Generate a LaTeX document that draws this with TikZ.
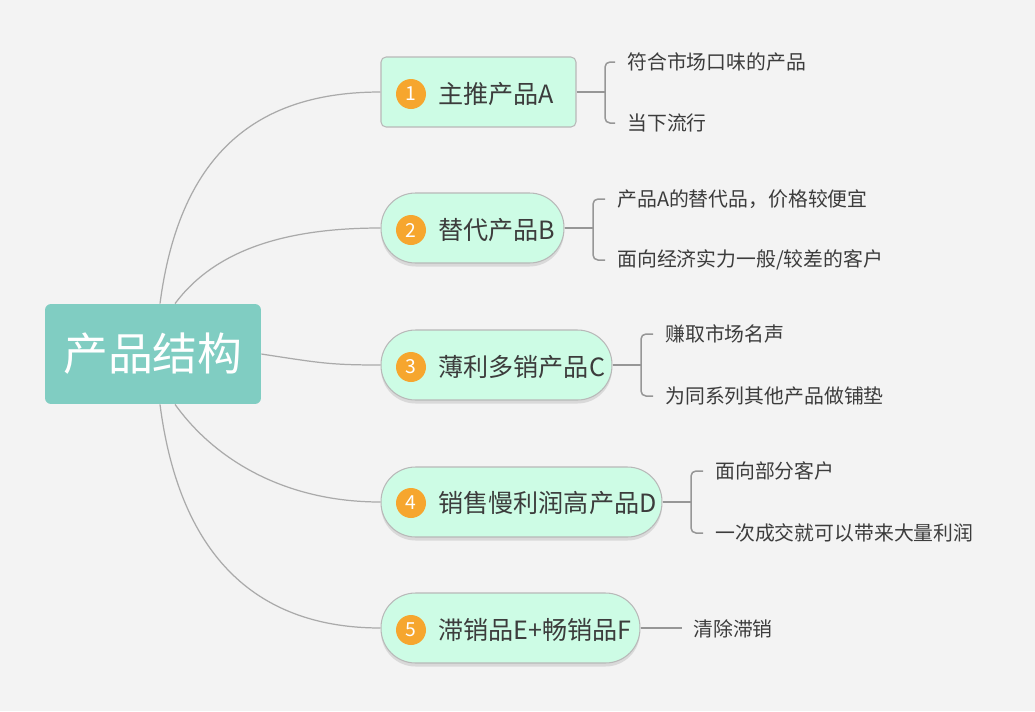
\documentclass[tikz,border=0pt]{standalone}
\usepackage{fontspec}
\setmainfont{Noto Sans CJK SC}
\usetikzlibrary{shadows}
\definecolor{bg}{RGB}{243,243,243}
\definecolor{topiccol}{RGB}{128,205,194}
\definecolor{pillfill}{RGB}{205,252,229}
\definecolor{pillline}{RGB}{184,184,184}
\definecolor{numcol}{RGB}{246,166,46}
\definecolor{linkcol}{RGB}{170,170,170}
\definecolor{brkcol}{RGB}{150,150,150}
\definecolor{textcol}{RGB}{60,60,60}
\tikzset{
  topic/.style={fill=topiccol, rounded corners=0.12cm, minimum width=4.32cm,
    minimum height=2cm, text=white, font=\fontsize{25.5}{30}\selectfont},
  branch/.style={draw=pillline, fill=pillfill, line width=0.6pt,
    rounded corners=0.1cm, minimum height=1.4cm},
  pill/.style={branch, rounded corners=0.69cm,
    drop shadow={shadow xshift=0pt, shadow yshift=-0.07cm, opacity=0.22}},
  num/.style={circle, fill=numcol, minimum size=0.6cm, inner sep=0pt,
    text=white, font=\fontsize{11}{13}\selectfont},
  btext/.style={anchor=west, inner sep=0pt, text=textcol,
    font=\fontsize{14.3}{17}\selectfont},
  stext/.style={anchor=west, inner sep=0pt, text=textcol,
    font=\fontsize{11.3}{14}\selectfont},
  link/.style={draw=linkcol, line width=0.7pt},
  brk/.style={draw=brkcol, line width=0.85pt, rounded corners=0.1cm}
}
\begin{document}
\begin{tikzpicture}[x=0.02cm,y=-0.02cm]
  \fill[bg] (0,0) rectangle (1035,711);
  \useasboundingbox (0,0) rectangle (1035,711);

  % central topic
  \node[topic] (m) at (153,354) {产品结构};

  % branches
  \node[branch, minimum width=3.9cm] (b1) at (478.5,92) {};
  \node[pill, minimum width=3.66cm] (b2) at (472.5,228) {};
  \node[pill, minimum width=4.62cm] (b3) at (496.5,365) {};
  \node[pill, minimum width=5.62cm] (b4) at (521.5,502) {};
  \node[pill, minimum width=5.18cm] (b5) at (510.5,628) {};

  \node[num] (n1) at (411,94) {1};
  \node[num] (n2) at (411,230) {2};
  \node[num] (n3) at (411,367) {3};
  \node[num] (n4) at (411,503) {4};
  \node[num] (n5) at (411,630) {5};

  \node[btext] (t1) at (438,94) {主推产品A};
  \node[btext] (t2) at (438,230) {替代产品B};
  \node[btext] (t3) at (438,367) {薄利多销产品C};
  \node[btext] (t4) at (438,503) {销售慢利润高产品D};
  \node[btext] (t5) at (438,630) {滞销品E+畅销品F};

  % curves from the topic
  \draw[link] ([xshift=0.14cm]m.north) .. controls (180,150) and (260,92) .. (b1.west);
  \draw[link] ([xshift=0.44cm]m.north) .. controls (215,250) and (285,228) .. (b2.west);
  \draw[link] (m.east) .. controls (320,363) and (330,365) .. (b3.west);
  \draw[link] ([xshift=0.44cm]m.south) .. controls (215,460) and (285,502) .. (b4.west);
  \draw[link] ([xshift=0.14cm]m.south) .. controls (180,560) and (260,628) .. (b5.west);

  % details
  \coordinate (j1) at (605,92);
  \coordinate (j2) at (593,228);
  \coordinate (j3) at (641,365);
  \coordinate (j4) at (691,502);
  \coordinate (j5) at (682,628);

  \node[stext] (s1a) at (627,62) {符合市场口味的产品};
  \node[stext] (s1b) at (627,123) {当下流行};
  \node[stext] (s2a) at (617,199) {产品A的替代品，价格较便宜};
  \node[stext] (s2b) at (617,260) {面向经济实力一般/较差的客户};
  \node[stext] (s3a) at (665,334) {赚取市场名声};
  \node[stext] (s3b) at (665,396) {为同系列其他产品做铺垫};
  \node[stext] (s4a) at (715,471) {面向部分客户};
  \node[stext] (s4b) at (715,533) {一次成交就可以带来大量利润};
  \node[stext] (s5) at (693,629) {清除滞销};

  \draw[brk] (b1.east) -- (j1);
  \draw[brk] ([xshift=-0.24cm]s1a.west) -| (j1) |- ([xshift=-0.24cm]s1b.west);
  \draw[brk] (b2.east) -- (j2);
  \draw[brk] ([xshift=-0.24cm]s2a.west) -| (j2) |- ([xshift=-0.24cm]s2b.west);
  \draw[brk] (b3.east) -- (j3);
  \draw[brk] ([xshift=-0.24cm]s3a.west) -| (j3) |- ([xshift=-0.24cm]s3b.west);
  \draw[brk] (b4.east) -- (j4);
  \draw[brk] ([xshift=-0.24cm]s4a.west) -| (j4) |- ([xshift=-0.24cm]s4b.west);
  \draw[brk] (b5.east) -- (j5);
\end{tikzpicture}
\end{document}
